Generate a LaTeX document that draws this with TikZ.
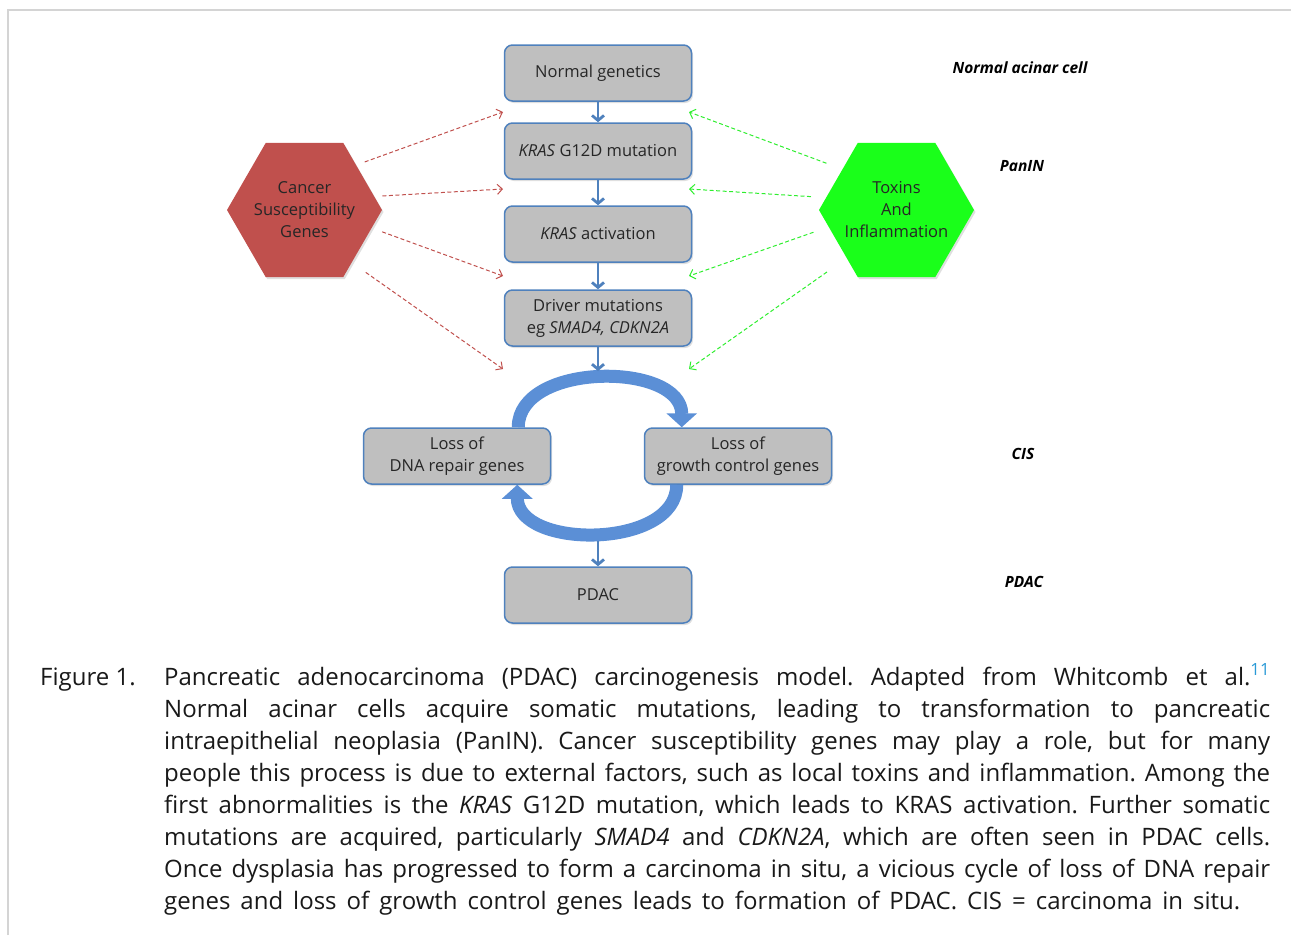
\documentclass[tikz,border=0pt]{standalone}
\usepackage{fontspec}
\setmainfont{Open Sans}
\usetikzlibrary{shapes.geometric,arrows.meta,shadows}
\definecolor{boxgray}{HTML}{BFBFBF}
\definecolor{boxblue}{HTML}{4F81BD}
\definecolor{hexred}{HTML}{C0504D}
\definecolor{hexgreen}{HTML}{1AFF1A}
\definecolor{dashgreen}{HTML}{2EEE2E}
\definecolor{ringblue}{HTML}{5B8FD6}
\definecolor{framegray}{HTML}{D4D4D4}
\definecolor{refblue}{HTML}{2A9AD6}
\frenchspacing

\begin{document}
\begin{tikzpicture}[x=1pt, y=-1pt,
		stage/.style={draw=boxblue, line width=1.5pt, fill=boxgray, rounded corners=8pt, minimum width=187pt, minimum height=56pt, align=center, text=black!85, font=\fontsize{16.5}{22}\selectfont, drop shadow={opacity=.25, shadow xshift=1.5pt, shadow yshift=-2pt}},
		factor/.style={regular polygon, regular polygon sides=6, minimum size=155pt, inner sep=-14pt, align=center, text=black!85, font=\fontsize{16.5}{22}\selectfont, drop shadow={opacity=.25, shadow xshift=1.5pt, shadow yshift=-2pt}},
		phase/.style={font=\fontsize{15.5}{18}\selectfont\bfseries\itshape},
		capfont/.style={inner sep=0pt, anchor=base west, text=black!90, font=\fontsize{24}{32}\selectfont},
		flow/.style={draw=boxblue, line width=2.8pt, -{Straight Barb[length=5pt,width=12pt]}},
		ring/.style={draw=ringblue, line width=13pt, -{Triangle[length=14pt,width=30pt]}},
		redarr/.style={draw=hexred, line width=1pt, dash pattern=on 4pt off 2.5pt, -{Straight Barb[length=5pt,width=10pt]}},
		greenarr/.style={draw=dashgreen, line width=1pt, dash pattern=on 4pt off 2.5pt, -{Straight Barb[length=5pt,width=10pt]}}]
	\useasboundingbox (0,0) rectangle (1291,935);
	\draw[framegray, line width=2.5pt] (8,935) -- (8,10) -- (1291,10);

	\node[stage] (normal) at (598,73) {Normal genetics};
	\node[stage] (kras) at (598,151) {\textit{KRAS} G12D mutation};
	\node[stage] (active) at (598,234) {\textit{KRAS} activation};
	\node[stage] (driver) at (598,318) {Driver mutations\\eg \textit{SMAD4, CDKN2A}};
	\node[stage] (dna) at (457,456) {Loss of\\DNA repair genes};
	\node[stage] (growth) at (738,456) {Loss of\\growth control genes};
	\node[stage] (pdac) at (598,595) {PDAC};

	\node[factor, fill=hexred] (chex) at (304.5,210) {Cancer\\Susceptibility\\Genes};
	\node[factor, fill=hexgreen] (thex) at (896.5,210) {Toxins\\And\\Inflammation};

	\node[phase] (acinar) at (1020,68) {Normal acinar cell};
	\node[phase] (panin) at (1022,166) {PanIN};
	\node[phase] (cis) at (1023,454) {CIS};
	\node[phase] (pdaclab) at (1024,582) {PDAC};

	\coordinate (ringtop) at (598,371);
	\coordinate (ringbot) at (598,541);
	\foreach \y [count=\i] in {112,189,276,369} {
		\coordinate (ln\i) at (503,\y);
		\coordinate (rn\i) at (689,\y);
	}

	\draw[ring] ([xshift=-33pt]dna.north east) to[out=90, in=90, looseness=1.03] ([xshift=38pt]growth.north west);
	\draw[ring] ([xshift=33pt]growth.south west) to[out=-90, in=-90, looseness=1.04] ([xshift=-34pt]dna.south east);

	\draw[flow] (normal) -- (kras);
	\draw[flow] (kras) -- (active);
	\draw[flow] (active) -- (driver);
	\draw[flow] (driver) -- (ringtop);
	\draw[flow] (ringbot) -- (pdac);

	\foreach \a/\s [count=\i] in {41/9, 11/8, -15/11, -48/17}
		\draw[redarr, shorten <=\s pt] (chex.\a) -- (ln\i);
	\foreach \a/\s [count=\i] in {143/17, 170/15, 194/16, 224/24}
		\draw[greenarr, shorten <=\s pt] (thex.\a) -- (rn\i);

	\node[capfont] (figlabel) at (40,685) {Figure 1.};
	\foreach \t [count=\i] in {%
		{Pancreatic adenocarcinoma (PDAC) carcinogenesis model. Adapted from Whitcomb et al.\textsuperscript{\color{refblue}11}},
		{Normal acinar cells acquire somatic mutations, leading to transformation to pancreatic},
		{intraepithelial neoplasia (PanIN). Cancer susceptibility genes may play a role, but for many},
		{people this process is due to external factors, such as local toxins and inflammation. Among the},
		{first abnormalities is the \textit{KRAS} G12D mutation, which leads to KRAS activation. Further somatic},
		{mutations are acquired, particularly \textit{SMAD4} and \textit{CDKN2A}, which are often seen in PDAC cells.},
		{Once dysplasia has progressed to form a carcinoma in situ, a vicious cycle of loss of DNA repair},
		{genes and loss of growth control genes leads to formation of PDAC. CIS = carcinoma in situ.}}
		\node[capfont] (cap\i) at (164,{653+32*\i}) {\ifnum\i<8 \makebox[1106pt][s]{\t}\else\makebox[1076pt][s]{\t}\fi};
\end{tikzpicture}
\end{document}
